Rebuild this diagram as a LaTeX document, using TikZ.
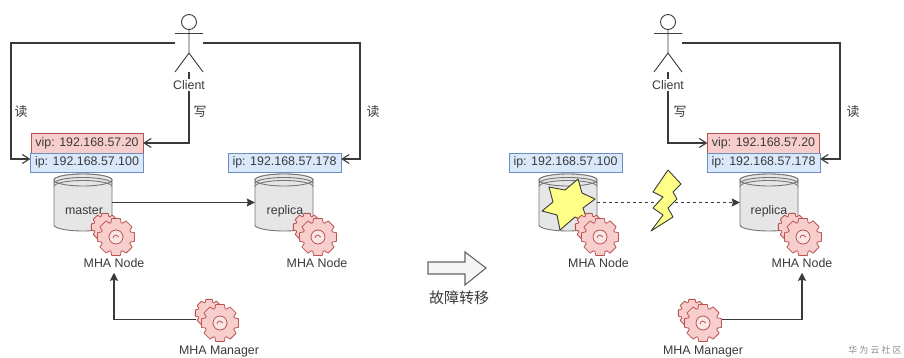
\documentclass[tikz,border=0pt]{standalone}
\usepackage{xcolor}
\usepackage{fontspec}
\setmainfont{Liberation Sans}
\newfontfamily\cjk{Noto Sans CJK SC}
\usepackage{tikz}
\usetikzlibrary{arrows.meta, positioning}

\definecolor{inkgrey}{HTML}{3A3A3A}
\definecolor{redfill}{HTML}{F8CECC}
\definecolor{redline}{HTML}{B85450}
\definecolor{bluefill}{HTML}{DAE8FC}
\definecolor{blueline}{HTML}{6C8EBF}
\definecolor{dbfill}{HTML}{E6E6E6}
\definecolor{boltfill}{HTML}{FFFF88}

\begin{document}
\begin{tikzpicture}[
      x=1pt, y=-1pt,
      every node/.style={inner sep=0pt, text=inkgrey, font=\fontsize{12.4}{14}\selectfont},
      vipbox/.style={draw=redline, fill=redfill, minimum width=112pt, minimum height=20pt},
      ipbox/.style={draw=blueline, fill=bluefill, minimum width=113pt, minimum height=19pt},
      dbanchor/.style={minimum width=58pt, minimum height=57pt},
      cogwheel/.style={minimum width=36pt, minimum height=36pt},
      cjklabel/.style={font=\cjk\fontsize{13}{15}\selectfont},
      link/.style={draw=inkgrey, line width=1.1pt},
      readarrow/.style={link, -{Straight Barb[length=7pt, width=9pt]}},
      fillarrow/.style={link, -{Stealth[length=8pt, width=8pt, inset=1pt]}},
      burst/.style={draw=inkgrey, fill=boltfill, line width=0.9pt, line join=round},
      pics/cog/.style={code={
        \draw[draw=redline, fill=redfill, line width=0.8pt, line join=round] (-13:#1)
          \foreach \a in {0,45,...,315} {-- (\a-13:#1) -- (\a+13:#1) -- (\a+20:0.8*#1) -- (\a+25:0.8*#1)} -- cycle;
      }},
      pics/gears/.style={code={
        \pic at (-11,-10) {cog=14};
        \pic at (0,0) {cog=19};
        \draw[draw=redline, fill=redfill!50, line width=0.8pt] (0,0) circle (7);
        \draw[draw=redline, line width=0.8pt] (-3,1) arc (180:340:3);
      }},
      pics/datastore/.style={code={
        \draw[draw=inkgrey!70, fill=dbfill, line width=0.9pt] (-29,-22.5) arc (180:360:29 and 6) -- (29,22.5)
          arc (0:180:29 and 6) -- cycle;
        \draw[draw=inkgrey!70, fill=dbfill, line width=0.9pt] (0,-22.5) ellipse (29 and 6);
        \draw[draw=inkgrey!70, line width=0.9pt] (-29,-19) arc (180:0:29 and -6);
        \draw[draw=inkgrey!70, line width=0.9pt] (-29,-16) arc (180:0:29 and -6);
      }},
      pics/actor/.style={code={
        \draw[draw=inkgrey, line width=0.9pt] (0,-21) circle (7.5);
        \draw[draw=inkgrey, line width=0.9pt] (0,-13.5) -- (0,10) (-14,-9.5) -- (14,-9.5)
          (-14,29) -- (0,10) -- (14,29);
      }}
    ]
    \useasboundingbox (0,0) rectangle (904,358);
    \fill[white] (0,0) rectangle (904,358);

    \coordinate (actorL) at (189,43);
    \coordinate (actorR) at (668,43);
    \pic at (actorL) {actor};
    \pic at (actorR) {actor};
    \coordinate (armLL) at (175,43);
    \coordinate (armLR) at (203,43);
    \coordinate (armRR) at (682,43);
    \coordinate (footL) at (189,72);
    \coordinate (footR) at (668,72);

    % left side
    \node[vipbox] (vipL) at (87,143) {vip: 192.168.57.20};
    \node[ipbox] (ipL) at (87,162.5) {ip: 192.168.57.100};
    \node[ipbox] (ipLB) at (284.5,162.5) {ip: 192.168.57.178};
    \node[dbanchor] (master) at (83,202.5) {};
    \node[dbanchor] (replicaL) at (284,202.5) {};
    \pic at (master) {datastore};
    \pic at (replicaL) {datastore};
    \node (masterText) at (84,211) {master};
    \node (replicaLText) at (285,211) {replica};
    \node[cogwheel] (cogA) at (116,237) {};
    \node[cogwheel] (cogB) at (318,237) {};
    \node[cogwheel] (cogM) at (220,323) {};
    \pic at (cogA) {gears};
    \pic at (cogB) {gears};
    \pic at (cogM) {gears};
    \node (nodeA) at (114,263) {MHA Node};
    \node (nodeB) at (317,263) {MHA Node};
    \node (mgrL) at (219,352) {MHA Manager};
    \node[fill=white, inner sep=1pt] (clientL) at (189,85) {Client};
    \coordinate (mgrOutL) at (196,319.5);

    \draw[readarrow] (armLL) -| (11,159) -- (ipL.west |- 0,159);
    \draw[readarrow] (armLR) -| (360,159) -- (ipLB.east |- 0,159);
    \draw[link] (footL) -- (clientL.north);
    \draw[readarrow] (clientL.south) |- (vipL.east);
    \draw[fillarrow] (master.east) -- (replicaL.west);
    \draw[fillarrow] (mgrOutL) -| ([yshift=-5pt]nodeA.south);
    \node[cjklabel] (readA) at (21,112) {读};
    \node[cjklabel] (writeA) at (200,112) {写};
    \node[cjklabel] (readB) at (373,112) {读};

    % failover
    \node (failover) at (459,298) {\cjk\fontsize{15}{17}\selectfont 故障转移};
    \draw[draw=black!60, fill=black!4, line width=1.1pt] (428,262) -- (465,262) -- (465,252) -- (486,268)
      -- (465,285) -- (465,274) -- (428,274) -- cycle;

    % right side
    \node[vipbox] (vipR) at (763.5,143) {vip: 192.168.57.20};
    \node[ipbox] (ipR) at (763.5,162.5) {ip: 192.168.57.178};
    \node[ipbox] (ipRA) at (565.5,162.5) {ip: 192.168.57.100};
    \node[dbanchor] (failed) at (568,202.5) {};
    \node[dbanchor] (replicaR) at (769,202.5) {};
    \pic at (failed) {datastore};
    \pic at (replicaR) {datastore};
    \node (replicaRText) at (769,211) {replica};
    \draw[link, dashed, -{Stealth[length=8pt, width=8pt, inset=1pt]}] (failed.east) -- (replicaR.west);
    \draw[burst] (578,179) -- (582,193) -- (595,199) -- (583,208) -- (588,223) -- (575,217) -- (560,230)
      -- (557,215) -- (542,211) -- (553,202) -- (549,187) -- (565,190) -- cycle;
    \draw[burst] (668,170) -- (681,184) -- (673,192) -- (677,199) -- (668,208) -- (673,217) -- (651,231)
      -- (663,215) -- (653,208) -- (663,197) -- (653,192) -- cycle;
    \node[cogwheel] (cogC) at (600,237) {};
    \node[cogwheel] (cogD) at (803,237) {};
    \node[cogwheel] (cogN) at (703,323) {};
    \pic at (cogC) {gears};
    \pic at (cogD) {gears};
    \pic at (cogN) {gears};
    \node (nodeC) at (598.5,263) {MHA Node};
    \node (nodeD) at (802,263) {MHA Node};
    \node (mgrR) at (703,352) {MHA Manager};
    \node[fill=white, inner sep=1pt] (clientR) at (668,85) {Client};
    \coordinate (mgrOutR) at (722,319.5);

    \draw[readarrow] (armRR) -| (840,159) -- (ipR.east |- 0,159);
    \draw[link] (footR) -- (clientR.north);
    \draw[readarrow] (clientR.south) |- (vipR.west);
    \draw[fillarrow] (mgrOutR) -| ([yshift=-5pt]nodeD.south);
    \node[cjklabel] (writeB) at (680,112) {写};
    \node[cjklabel] (readC) at (853,112) {读};

    \node[font=\cjk\fontsize{9}{11}\selectfont, text=black!45] (mark) at (875,350) {华 为 云 社 区};
\end{tikzpicture}
\end{document}
